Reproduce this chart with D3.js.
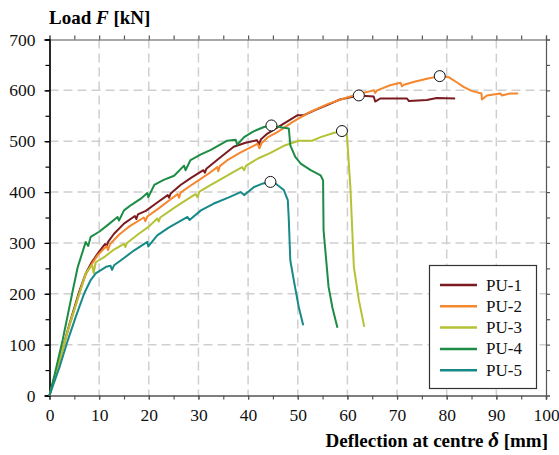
<!DOCTYPE html>
<html>
<head>
<meta charset="utf-8">
<script src="https://cdn.jsdelivr.net/npm/d3@7/dist/d3.min.js"></script>
<style>
  body { margin: 0; background: #fff; }
  svg text { font-family: "Liberation Serif", "Times New Roman", serif; }
</style>
</head>
<body>
<script>
// load-deflection curves, [deflection mm, load kN]
const pu1 = [[0,0],[2,70],[4,140],[6,205],[7.3,240],[8.5,262],[9.7,279],[11.2,298],[11.5,293],[11.8,302],[13,318],[15,338],[17.2,353],[17.5,347],[17.8,356],[19.4,363],[21.5,378],[23.8,394],[24.1,389],[24.4,397],[26.4,414],[28.5,428],[31,443],[31.3,438],[31.6,446],[34,465],[37.1,489],[39.5,497],[41.8,502],[42.2,494],[42.6,504],[43.9,515],[46.6,531],[49.9,551],[51.2,551],[53.5,561],[55.9,571],[58.5,582],[62.3,590],[65.3,588],[65.6,578],[66.6,584],[72,584],[72.4,579],[76,581],[78,585],[81.7,584]];
const pu2 = [[0,0],[2,68],[4,136],[6,200],[7.3,238],[8.5,258],[9.7,276],[11.5,294],[11.8,286],[12.2,298],[14,316],[16,332],[19,350],[19.3,343],[19.7,352],[22,368],[24,383],[25.8,396],[26.1,389],[26.4,399],[28,410],[30,423],[32,436],[33.8,449],[34,441],[34.3,451],[36,464],[38.5,478],[40.5,488],[41.9,495],[42.3,486],[42.7,496],[44,508],[45.9,518],[49,538],[52.6,558],[56,573],[59.3,584],[62.6,594],[65.3,600],[65.6,595],[66,600],[68.6,610],[70.7,615],[71,608],[71.4,611],[73.5,617],[76,623],[78.6,628],[80.4,626],[82,616],[83.4,607],[85,599],[87,594],[87.1,582],[88.1,590],[90.8,594],[91.1,590],[92.8,594],[94.4,594]];
const pu3 = [[0,0],[2,70],[4,138],[6,200],[7.3,240],[8.2,252],[8.6,256],[8.9,241],[9.3,262],[11,272],[13,287],[15,298],[15.3,292],[15.6,300],[18,318],[20,332],[21.7,348],[22,342],[22.3,350],[25.4,371],[27.5,384],[29.4,396],[29.8,390],[30.2,401],[32.5,414],[35,428],[37,439],[38.8,449],[39.2,443],[39.6,452],[42,466],[44.5,477],[47.2,491],[50.2,501],[52.9,501],[54.6,508],[57.2,516],[58.9,520],[59.9,513],[60.6,410],[61.3,253],[62.3,188],[63.4,135]];
const pu4 = [[0,0],[1,40],[2.65,109],[4.7,207],[5.7,253],[7.3,302],[7.8,294],[8.3,312],[10,322],[11.7,335],[13.7,351],[14,344],[15,364],[16.5,375],[18.4,387],[19.7,398],[19.9,390],[21.1,414],[23,424],[25.1,432],[27.1,452],[27.4,443],[28.4,463],[30.5,474],[32.5,483],[35.8,501],[37.5,503],[37.8,493],[39.2,508],[41,519],[43.2,528],[44.7,531],[46.9,527],[48.2,525],[48.5,492],[49.5,469],[50.6,456],[52.6,443],[54.6,433],[55.1,423],[55.2,325],[56.2,214],[57,172],[58,133]];
const pu5 = [[0,0],[2,55],[3.7,109],[5.3,155],[7,201],[8.3,227],[9.3,240],[11.4,253],[12.3,255],[12.6,247],[13,256],[14.4,266],[17,285],[19.7,302],[19.9,293],[21.7,315],[24,330],[27.8,351],[28.2,345],[30.5,364],[33,377],[36,389],[38.5,400],[39.2,394],[41.2,410],[43,417],[44.5,420],[45.5,417],[47.2,404],[48,384],[48.2,345],[48.5,266],[49.2,227],[50.2,174],[51.1,138]];

const names = ['PU-1', 'PU-2', 'PU-3', 'PU-4', 'PU-5'];
const colors = ['#7a1b1f', '#f5872d', '#b5c236', '#1d8c45', '#178a88'];
// peak load markers
const peaks = [[62.3, 590], [78.6, 628], [58.9, 520], [44.7, 531], [44.5, 420]];

const xTicks = [0, 10, 20, 30, 40, 50, 60, 70, 80, 90, 100];
const yTicks = [0, 100, 200, 300, 400, 500, 600, 700];

const width = 559, height = 455;
const serif = '"Liberation Serif", "Times New Roman", serif';
const x = d3.scaleLinear().domain([0, 100]).range([49.5, 546]);
const y = d3.scaleLinear().domain([0, 700]).range([395.5, 39.5]);

const svg = d3.select('body').append('svg')
  .attr('width', width).attr('height', height)
  .attr('font-family', serif);

// grid
svg.append('g').selectAll('line').data(xTicks.slice(1, -1)).join('line')
  .attr('x1', d => x(d)).attr('x2', d => x(d))
  .attr('y1', y(700)).attr('y2', y(0))
  .attr('stroke', '#cfcfcf').attr('stroke-width', 1.5).attr('stroke-dasharray', '9,5');
svg.append('g').selectAll('line').data(yTicks.slice(1, -1)).join('line')
  .attr('x1', x(0)).attr('x2', x(100))
  .attr('y1', d => y(d)).attr('y2', d => y(d))
  .attr('stroke', '#cfcfcf').attr('stroke-width', 1.5).attr('stroke-dasharray', '9,5');

// axes
const minorX = d3.range(0, 101, 5);
const minorY = d3.range(0, 701, 50);

const axBottom = svg.append('g').attr('transform', `translate(0,${y(0)})`)
  .call(d3.axisBottom(x).tickValues(minorX).tickSize(4).tickFormat(''));
axBottom.append('g').call(d3.axisBottom(x).tickValues(xTicks).tickSize(4).tickPadding(9));
const axTop = svg.append('g').attr('transform', `translate(0,${y(700)})`)
  .call(d3.axisTop(x).tickValues(minorX).tickSize(4).tickFormat(''));
const axLeft = svg.append('g').attr('transform', `translate(${x(0)},0)`)
  .call(d3.axisLeft(y).tickValues(minorY).tickSize(4).tickFormat(''));
axLeft.append('g').call(d3.axisLeft(y).tickValues(yTicks).tickSize(5).tickPadding(9));
const axRight = svg.append('g').attr('transform', `translate(${x(100)},0)`)
  .call(d3.axisRight(y).tickValues(minorY).tickSize(4).tickFormat(''));

[axBottom, axTop, axRight].forEach(g => {
  g.selectAll('path, line').attr('stroke', '#555').attr('stroke-width', 1.2);
});
axLeft.selectAll('path, line').attr('stroke', '#000').attr('stroke-width', 1.2);
svg.selectAll('g').attr('font-family', serif).attr('font-size', null);
svg.selectAll('.tick text').attr('font-size', 17.5).attr('fill', '#111');

// curves
const line = d3.line().x(d => x(d[0])).y(d => y(d[1]));
const series = [pu1, pu2, pu3, pu4, pu5];
series.forEach((s, i) => {
  svg.append('path').datum(s)
    .attr('d', line)
    .attr('fill', 'none')
    .attr('stroke', colors[i])
    .attr('stroke-width', 2)
    .attr('stroke-linejoin', 'round');
});

svg.append('g').selectAll('circle').data(peaks).join('circle')
  .attr('cx', d => x(d[0])).attr('cy', d => y(d[1]))
  .attr('r', 5.5)
  .attr('fill', '#fff').attr('stroke', '#111').attr('stroke-width', 1);

// titles
const yt = svg.append('text').attr('x', 49).attr('y', 24)
  .attr('font-size', 19).attr('font-weight', 'bold');
yt.append('tspan').text('Load ');
yt.append('tspan').attr('font-style', 'italic').text('F');
yt.append('tspan').text(' [kN]');

const xt = svg.append('text').attr('x', 548).attr('y', 447)
  .attr('text-anchor', 'end').attr('font-size', 19).attr('font-weight', 'bold');
xt.append('tspan').text('Deflection at centre ');
xt.append('tspan').attr('font-style', 'italic').attr('font-size', 21).text('δ');
xt.append('tspan').text(' [mm]');

// legend
const lg = svg.append('g');
lg.append('rect').attr('x', 429.5).attr('y', 265.5).attr('width', 107).attr('height', 123)
  .attr('fill', '#fff').attr('stroke', '#333').attr('stroke-width', 1.2);
names.forEach((n, i) => {
  const ly = 285 + i * 21.3;
  lg.append('line').attr('x1', 440).attr('x2', 477).attr('y1', ly).attr('y2', ly)
    .attr('stroke', colors[i]).attr('stroke-width', 2.5);
  lg.append('text').attr('x', 486).attr('y', ly + 5.5).attr('font-size', 17)
    .attr('fill', '#111').text(n);
});
</script>
</body>
</html>
